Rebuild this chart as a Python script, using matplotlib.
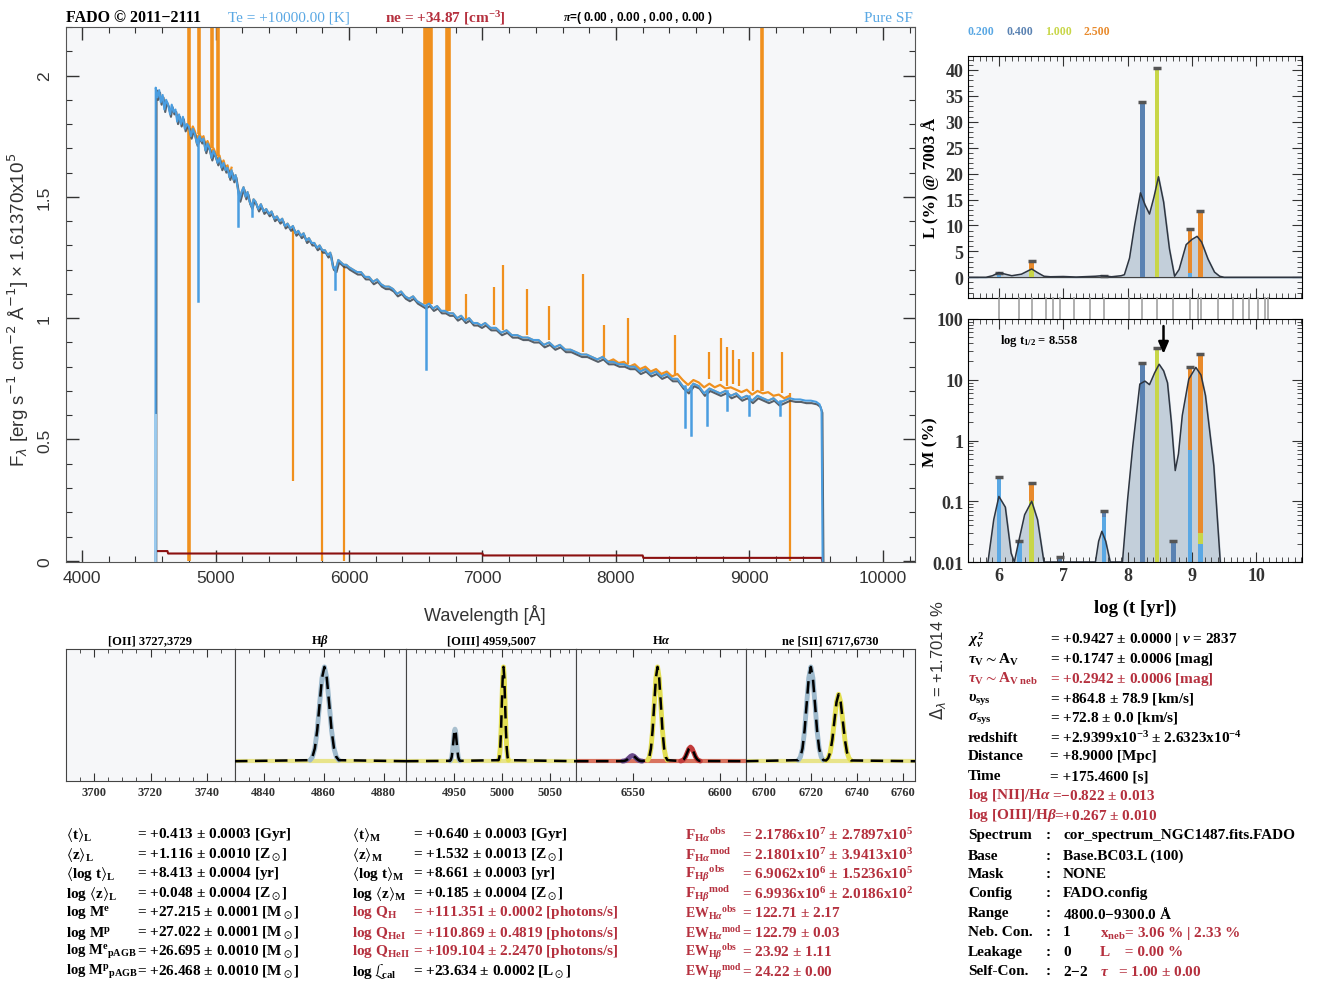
import numpy as np
import matplotlib
matplotlib.use('Agg')
import matplotlib.pyplot as plt
import matplotlib.patheffects as pe
from matplotlib.ticker import MultipleLocator, FixedLocator, NullFormatter, LogLocator, FixedFormatter

plt.rcParams['mathtext.fontset'] = 'custom'
plt.rcParams['mathtext.rm'] = 'Liberation Serif:bold'
plt.rcParams['mathtext.it'] = 'Liberation Serif:italic:bold'
plt.rcParams['mathtext.bf'] = 'Liberation Serif:bold'
plt.rcParams['mathtext.sf'] = 'Liberation Sans'
plt.rcParams['mathtext.fallback'] = 'stix'

# ---------------- DATA ----------------
# best-fit model spectrum (blue): wavelength [A], flux
model_wl = [4550, 4552, 4565, 4578, 4590, 4604, 4617, 4630, 4645, 4660, 4672, 4686, 4700, 4713,
            4727, 4740, 4756, 4770, 4785, 4800, 4815, 4830, 4845, 4860, 4880, 4895, 4910, 4925,
            4940, 4955, 4970, 4985, 5000, 5015, 5030, 5045, 5060, 5075, 5090, 5105, 5120, 5135,
            5150, 5165, 5180, 5195, 5210, 5225, 5240, 5255, 5270, 5285, 5300, 5320, 5340, 5360,
            5380, 5400, 5420, 5440, 5460, 5480, 5500, 5520, 5540, 5560, 5580, 5600, 5620, 5640,
            5660, 5680, 5700, 5720, 5740, 5760, 5780, 5800, 5820, 5840, 5860, 5880, 5900, 5920,
            5940, 5960, 5980, 6000, 6030, 6060, 6090, 6120, 6150, 6180, 6210, 6240, 6270, 6300,
            6330, 6360, 6390, 6420, 6450, 6480, 6510, 6540, 6570, 6600, 6630, 6660, 6690, 6720,
            6750, 6780, 6810, 6840, 6870, 6900, 6930, 6960, 6990, 7020, 7060, 7100, 7140, 7180,
            7220, 7260, 7300, 7340, 7380, 7420, 7460, 7500, 7540, 7580, 7620, 7660, 7700, 7740,
            7780, 7820, 7860, 7900, 7940, 7980, 8020, 8060, 8100, 8140, 8180, 8220, 8260, 8300,
            8340, 8380, 8420, 8460, 8500, 8540, 8580, 8620, 8660, 8700, 8740, 8780, 8820, 8860,
            8900, 8940, 8980, 9020, 9060, 9100, 9140, 9180, 9220, 9260, 9300, 9340, 9380, 9420,
            9460, 9500, 9525, 9540, 9548]
model_flux = [0.0, 1.95, 1.91, 1.94, 1.89, 1.92, 1.86, 1.90, 1.88, 1.84, 1.88, 1.85, 1.86, 1.81,
              1.84, 1.80, 1.83, 1.78, 1.80, 1.79, 1.75, 1.78, 1.76, 1.72, 1.75, 1.73, 1.74, 1.69,
              1.72, 1.70, 1.66, 1.69, 1.67, 1.64, 1.66, 1.62, 1.64, 1.61, 1.62, 1.58, 1.61, 1.57,
              1.59, 1.54, 1.49, 1.52, 1.54, 1.50, 1.52, 1.48, 1.46, 1.49, 1.48, 1.45, 1.47, 1.44,
              1.45, 1.43, 1.44, 1.41, 1.42, 1.40, 1.41, 1.38, 1.39, 1.37, 1.38, 1.35, 1.36, 1.34,
              1.35, 1.32, 1.33, 1.31, 1.31, 1.29, 1.30, 1.28, 1.28, 1.26, 1.27, 1.21, 1.20, 1.24,
              1.23, 1.22, 1.22, 1.21, 1.20, 1.19, 1.19, 1.17, 1.17, 1.15, 1.16, 1.14, 1.13, 1.13,
              1.12, 1.10, 1.11, 1.09, 1.08, 1.09, 1.07, 1.06, 1.05, 1.06, 1.04, 1.05, 1.03, 1.03,
              1.02, 1.02, 1.00, 1.01, 0.99, 1.00, 0.98, 0.98, 0.97, 0.98, 0.96, 0.96, 0.94, 0.95,
              0.93, 0.93, 0.92, 0.92, 0.91, 0.91, 0.89, 0.90, 0.88, 0.89, 0.87, 0.87, 0.86, 0.85,
              0.85, 0.84, 0.83, 0.84, 0.82, 0.82, 0.81, 0.81, 0.80, 0.80, 0.78, 0.79, 0.77, 0.78,
              0.76, 0.77, 0.75, 0.75, 0.72, 0.70, 0.73, 0.72, 0.69, 0.71, 0.70, 0.69, 0.70, 0.68,
              0.69, 0.67, 0.68, 0.66, 0.68, 0.67, 0.66, 0.67, 0.65, 0.66, 0.67, 0.665, 0.665, 0.66,
              0.66, 0.655, 0.645, 0.62, 0.0]
# observed spectrum (orange) where it runs above the model
obs_wl = [4800, 4815, 4830, 4845, 4860, 4880, 4895, 4910, 4925, 4940, 4955, 4970, 4985, 5000,
          5015, 5030, 5045, 5060, 5075, 5090, 5105, 5120,
          7900, 7940, 7980, 8020, 8060, 8100, 8140, 8180, 8220, 8260, 8300, 8340, 8380, 8420,
          8460, 8500, 8540, 8580, 8620, 8660, 8700, 8740, 8780, 8820, 8860, 8900, 8940, 8980,
          9020, 9060, 9100, 9140, 9180, 9220, 9260, 9300]
obs_flux = [1.80, 1.76, 1.79, 1.77, 1.74, 1.76, 1.74, 1.75, 1.71, 1.73, 1.71, 1.68, 1.70, 1.68,
            1.65, 1.67, 1.63, 1.65, 1.62, 1.63, 1.59, 1.62,
            0.84, 0.82, 0.83, 0.815, 0.82, 0.80, 0.81, 0.79, 0.80, 0.78, 0.79, 0.77, 0.78, 0.76,
            0.77, 0.745, 0.725, 0.745, 0.735, 0.715, 0.73, 0.715, 0.725, 0.71, 0.715, 0.705, 0.695, 0.705,
            0.685, 0.70, 0.69, 0.695, 0.68, 0.685, 0.67, 0.68]
# absorption features in the model (wavelength, continuum, depth)
abs_wl = [4868, 5172, 5270, 5893, 6575, 8520, 8565, 8685, 8830, 9000, 9230]
abs_top = [1.74, 1.52, 1.47, 1.21, 1.05, 0.72, 0.72, 0.70, 0.70, 0.68, 0.66]
abs_bot = [1.07, 1.38, 1.42, 1.12, 0.79, 0.55, 0.52, 0.56, 0.62, 0.60, 0.60]
# observed spectrum (orange): emission lines and spikes (wavelength, from, to)
em_wl = [4800, 4875, 4973, 5021, 5577, 5800, 5960, 6567, 6582, 6600, 6618, 6736, 6750,
         6880, 7085, 7157, 7330, 7500, 7750, 7910, 8090, 8440, 8700, 8790, 8830, 8880, 8920,
         9030, 9095, 9240, 9300]
em_from = [0.0, 1.76, 1.70, 1.67, 1.37, 1.28, 1.22, 1.06, 1.06, 1.06, 1.06, 1.03, 1.03,
           0.99, 0.97, 0.95, 0.93, 0.91, 0.86, 0.84, 0.81, 0.77, 0.75, 0.74, 0.72, 0.73, 0.72,
           0.70, 0.70, 0.69, 0.69]
em_to = [2.3, 2.3, 2.3, 2.3, 0.33, 0.0, 0.0, 2.3, 2.3, 2.3, 2.3, 2.3, 2.3,
         1.10, 1.13, 1.22, 1.12, 1.05, 1.18, 0.97, 1.0, 0.93, 0.86, 0.92, 0.88, 0.87, 0.83,
         0.86, 2.3, 0.86, 0.0]
# nebular continuum (dark red)
neb_wl = [4550, 4552, 4640, 4645, 7000, 7005, 8200, 8205, 9540, 9545]
neb_flux = [0.0, 0.040, 0.040, 0.030, 0.030, 0.022, 0.022, 0.012, 0.012, 0.0]

# SFH
base_ages = [6.00, 6.32, 6.51, 6.73, 6.84, 6.95, 7.16, 7.42, 7.63, 8.02, 8.23, 8.46, 8.71,
             8.97, 9.10, 9.14, 9.41, 9.64, 9.80, 9.89, 10.03, 10.13, 10.18]
Z_labels = ['0.200', '0.400', '1.000', '2.500']
Z_colors = ['#5aa8e4', '#5a82b2', '#c8d648', '#e88a2c']
barL_age = [6.00, 6.51, 7.63, 8.23, 8.46, 8.97, 9.13]
barL = {'0.200': [0.9, 0.0, 0.2, 0.0, 0.0, 0.8, 0.0],
        '0.400': [0.0, 0.0, 0.0, 33.8, 0.0, 0.0, 0.0],
        '1.000': [0.0, 1.6, 0.0, 0.0, 40.4, 0.0, 0.0],
        '2.500': [0.0, 1.5, 0.0, 0.0, 0.0, 8.6, 12.7]}
curveL_x = [5.52, 5.80, 5.90, 6.00, 6.10, 6.20, 6.35, 6.51, 6.60, 6.70, 6.80, 7.00, 7.20, 7.50,
            7.60, 7.75, 7.90, 7.95, 8.03, 8.11, 8.20, 8.27, 8.34, 8.41, 8.48, 8.56, 8.65, 8.73,
            8.80, 8.91, 9.00, 9.08, 9.15, 9.25, 9.35, 9.43, 9.50, 10.71]
curveL_y = [0.0, 0.0, 0.3, 0.9, 0.6, 0.3, 0.6, 1.6, 0.9, 0.2, 0.1, 0.15, 0.05, 0.2,
            0.3, 0.1, 0.3, 0.5, 3.7, 10.1, 16.3, 14.0, 12.2, 15.5, 19.4, 14.5, 5.5, 0.2,
            1.5, 6.3, 7.3, 7.9, 6.8, 3.5, 1.0, 0.2, 0.0, 0.0]
barM_age = [6.00, 6.32, 6.51, 6.95, 7.63, 8.23, 8.46, 8.71, 8.97, 9.13]
barM = {'0.200': [0.25, 0.022, 0.0, 0.0, 0.055, 0.0, 0.0, 0.0, 0.7, 0.02],
        '0.400': [0.0, 0.0, 0.0, 0.012, 0.015, 19.0, 0.0, 0.022, 0.0, 0.0],
        '1.000': [0.0, 0.0, 0.1, 0.0, 0.0, 0.0, 33.0, 0.0, 0.0, 0.01],
        '2.500': [0.0, 0.0, 0.1, 0.0, 0.0, 0.0, 0.0, 0.0, 15.3, 27.0]}
curveM_x = [5.83, 5.92, 6.00, 6.10, 6.19, 6.24, 6.30, 6.40, 6.51, 6.60, 6.70,
            7.50, 7.55, 7.60, 7.66, 7.73,
            7.92, 8.00, 8.08, 8.19, 8.27, 8.34, 8.42, 8.49, 8.56, 8.62, 8.68, 8.74, 8.79,
            8.85, 8.95, 9.06, 9.14, 9.21, 9.34, 9.44]
curveM_y = [0.01, 0.05, 0.12, 0.08, 0.014, 0.01, 0.02, 0.06, 0.10, 0.05, 0.01,
            0.01, 0.022, 0.032, 0.022, 0.01,
            0.01, 0.107, 0.8, 8.5, 9.5, 8.3, 13.0, 18.0, 14.0, 8.9, 2.0, 0.32, 0.6,
            2.6, 10.2, 16.0, 12.0, 5.5, 0.38, 0.01]
t_half = 8.558

# emission-line panels
panel_titles = ['[OII] 3727,3729', r'H$\beta$', '[OIII] 4959,5007', r'H$\alpha$', 'ne [SII] 6717,6730']
panel_xlim = [(3690, 3750), (4830.5, 4887.5), (4900, 5077), (6517, 6615), (6692, 6765)]
panel_ticks = [[3700, 3720, 3740], [4840, 4860, 4880], [4950, 5000, 5050], [6550, 6600],
               [6700, 6720, 6740, 6760]]
panel_minor = [5, 5, 10, 10, 5]
# lines: (panel, centre, peak, sigma, colour)
line_panel = [1, 2, 2, 3, 3, 3, 4, 4]
line_center = [4860.3, 4951.0, 5001.5, 6549.5, 6564.0, 6583.0, 6720.0, 6732.0]
line_peak = [1.0, 0.34, 1.0, 0.06, 1.0, 0.15, 1.0, 0.71]
line_sigma = [1.6, 1.7, 1.7, 1.9, 1.9, 1.9, 1.8, 1.8]
line_color = ['#9db9cc', '#a9c0cf', '#e2de52', '#6a4a8a', '#e2de52', '#c23b3b', '#9db9cc', '#e2de52']
prof_dx = [-3.0, -2.5, -2.0, -1.5, -1.0, -0.5, 0.0, 0.5, 1.0, 1.5, 2.0, 2.5, 3.0]
prof_shape = [0.011, 0.044, 0.135, 0.325, 0.607, 0.882, 1.0, 0.882, 0.607, 0.325, 0.135, 0.044, 0.011]
base_color = [None, '#e8e48a', '#e8e48a', '#d9735f', '#e8e48a']

# text tables
RED = '#b5303e'
LBLUE = '#5aa8e4'
tabA_lab = [r'$\langle\mathrm{t}\rangle_\mathrm{L}$', r'$\langle\mathrm{z}\rangle_\mathrm{L}$',
            r'$\langle\mathrm{log\ t}\rangle_\mathrm{L}$', r'log $\langle\mathrm{z}\rangle_\mathrm{L}$',
            r'log M$^\mathrm{e}$', r'log M$^\mathrm{p}$', r'log M$^\mathrm{e}{}_\mathrm{pAGB}$',
            r'log M$^\mathrm{p}{}_\mathrm{pAGB}$']
tabA_val = [r'= +0.413 $\pm$ 0.0003 [Gyr]', r'= +1.116 $\pm$ 0.0010 [Z$_\odot$]',
            r'= +8.413 $\pm$ 0.0004 [yr]', r'= +0.048 $\pm$ 0.0004 [Z$_\odot$]',
            r'= +27.215 $\pm$ 0.0001 [M$_\odot$]', r'= +27.022 $\pm$ 0.0001 [M$_\odot$]',
            r'= +26.695 $\pm$ 0.0010 [M$_\odot$]', r'= +26.468 $\pm$ 0.0010 [M$_\odot$]']
tabB_lab = [r'$\langle\mathrm{t}\rangle_\mathrm{M}$', r'$\langle\mathrm{z}\rangle_\mathrm{M}$',
            r'$\langle\mathrm{log\ t}\rangle_\mathrm{M}$', r'log $\langle\mathrm{z}\rangle_\mathrm{M}$',
            r'log Q$_\mathrm{H}$', r'log Q$_\mathrm{HeI}$', r'log Q$_\mathrm{HeII}$',
            r'log $\mathcal{L}_\mathrm{cal}$']
tabB_val = [r'= +0.640 $\pm$ 0.0003 [Gyr]', r'= +1.532 $\pm$ 0.0013 [Z$_\odot$]',
            r'= +8.661 $\pm$ 0.0003 [yr]', r'= +0.185 $\pm$ 0.0004 [Z$_\odot$]',
            r'= +111.351 $\pm$ 0.0002 [photons/s]', r'= +110.869 $\pm$ 0.4819 [photons/s]',
            r'= +109.104 $\pm$ 2.2470 [photons/s]', r'= +23.634 $\pm$ 0.0002 [L$_\odot$]']
tabB_col = ['k', 'k', 'k', 'k', RED, RED, RED, 'k']
tabC_lab = [r'F$_{\mathrm{H}\alpha}{}^\mathrm{obs}$', r'F$_{\mathrm{H}\alpha}{}^\mathrm{mod}$',
            r'F$_{\mathrm{H}\beta}{}^\mathrm{obs}$', r'F$_{\mathrm{H}\beta}{}^\mathrm{mod}$',
            r'EW$_{\mathrm{H}\alpha}{}^\mathrm{obs}$', r'EW$_{\mathrm{H}\alpha}{}^\mathrm{mod}$',
            r'EW$_{\mathrm{H}\beta}{}^\mathrm{obs}$', r'EW$_{\mathrm{H}\beta}{}^\mathrm{mod}$']
tabC_val = [r'= 2.1786x10$^7$ $\pm$ 2.7897x10$^5$', r'= 2.1801x10$^7$ $\pm$ 3.9413x10$^3$',
            r'= 6.9062x10$^6$ $\pm$ 1.5236x10$^5$', r'= 6.9936x10$^6$ $\pm$ 2.0186x10$^2$',
            r'= 122.71 $\pm$ 2.17', r'= 122.79 $\pm$ 0.03', r'= 23.92 $\pm$ 1.11',
            r'= 24.22 $\pm$ 0.00']
tabD_lab = [r'$\chi^2_\nu$', r'$\tau_\mathrm{V} \sim \mathrm{A}_\mathrm{V}$',
            r'$\tau_\mathrm{V} \sim \mathrm{A}_\mathrm{V\ neb}$', r'$\upsilon_\mathrm{sys}$',
            r'$\sigma_\mathrm{sys}$', 'redshift', 'Distance', 'Time', r'log [NII]/H$\alpha$',
            r'log [OIII]/H$\beta$']
tabD_val = [r'= +0.9427 $\pm$ 0.0000 | $\nu$ = 2837', r'= +0.1747 $\pm$ 0.0006 [mag]',
            r'= +0.2942 $\pm$ 0.0006 [mag]', r'= +864.8 $\pm$ 78.9 [km/s]',
            r'= +72.8 $\pm$ 0.0 [km/s]', r'= +2.9399x10$^{-3}$ $\pm$ 2.6323x10$^{-4}$',
            '= +8.9000 [Mpc]', '= +175.4600 [s]', r'$-$0.822 $\pm$ 0.013', r'+0.267 $\pm$ 0.010']
tabD_col = ['k', 'k', RED, 'k', 'k', 'k', 'k', 'k', RED, RED]
tabE_lab = ['Spectrum', 'Base', 'Mask', 'Config', 'Range', 'Neb. Con.', 'Leakage', 'Self-Con.']
tabE_val = ['cor_spectrum_NGC1487.fits.FADO', 'Base.BC03.L (100)', 'NONE', 'FADO.config',
            '4800.0$-$9300.0 Å', '1', '0', '2$-$2']
tabE_extra = ['', '', '', '', '', r'x$_\mathrm{neb}$= 3.06 % | 2.33 %', r'L    = 0.00 %',
              r'$\tau$   = 1.00 $\pm$ 0.00']

# ---------------- FIGURE ----------------
W, H = 1323, 987
fig = plt.figure(figsize=(W / 100, H / 100), dpi=100)
fig.patch.set_facecolor('white')
BG = '#f6f7f9'
SERIF = 'Liberation Serif'
SANS = 'Liberation Sans'


def ax_px(l, t, r, b):
    return fig.add_axes([l / W, 1 - b / H, (r - l) / W, (b - t) / H])


def fx(x):
    return x / W


def fy(y):
    return 1 - y / H


# ---- main spectrum ----
ax = ax_px(66, 28, 915, 563)
ax.set_facecolor(BG)
ax.set_xlim(3880, 10240)
ax.set_ylim(-0.005, 2.2)
mwl = np.array(model_wl)
mfl = np.array(model_flux)
sel = (mwl >= 4800) & (mwl <= 9300)
ax.plot(mwl[sel], mfl[sel], color='#f0901e', lw=1.4, zorder=2)
owl = np.array(obs_wl)
ofl = np.array(obs_flux)
for part in (owl < 6000, owl > 6000):
    ax.plot(owl[part], ofl[part], color='#f0901e', lw=1.6, zorder=2)
for w, a, b in zip(em_wl, em_from, em_to):
    big = b > 2.0
    ax.plot([w, w], [a, b], color='#f0901e', lw=2.6 if big else 1.6, zorder=2,
            solid_capstyle='butt')
ax.plot(neb_wl, neb_flux, color='#8b1010', lw=1.5, zorder=3)
ax.plot(model_wl, model_flux, color='#4a9de0', lw=1.5, zorder=4,
        path_effects=[pe.SimpleLineShadow(offset=(0.6, -1.8), shadow_color='#3c4650', alpha=0.85),
                      pe.Normal()])
for w, a, b in zip(abs_wl, abs_top, abs_bot):
    ax.plot([w, w], [a, b], color='#4a9de0', lw=1.8, zorder=4)
ax.plot([model_wl[0], model_wl[1]], [0.0, 0.6], color='#9ccbee', lw=1.8, zorder=5)
ax.xaxis.set_major_locator(MultipleLocator(1000))
ax.xaxis.set_minor_locator(MultipleLocator(200))
ax.yaxis.set_major_locator(FixedLocator([0, 0.5, 1, 1.5, 2]))
ax.yaxis.set_major_formatter(FixedFormatter(['0', '0.5', '1', '1.5', '2']))
ax.yaxis.set_minor_locator(MultipleLocator(0.1))
ax.tick_params(which='both', direction='in', top=True, right=True, colors='#333333',
               labelsize=12.5, labelcolor='#333333')
ax.tick_params(which='major', length=9, width=1)
ax.tick_params(which='minor', length=4.5, width=0.8)
ax.tick_params(axis='y', labelrotation=90, pad=10)
ax.tick_params(axis='x', pad=6)
for lab in ax.get_yticklabels():
    lab.set_va('center')
    lab.set_fontfamily(SANS)
for lab in ax.get_xticklabels():
    lab.set_fontfamily(SANS)
for s in ax.spines.values():
    s.set_color('#555555')
fig.text(fx(18), fy(310), r'F$_\lambda$ [erg s$^{-1}$ cm$^{-2}$ Å$^{-1}$] × 1.61370x10$^5$',
         rotation=90, ha='center', va='center', fontsize=13.5, family=SANS, color='#333333',
         math_fontfamily='dejavusans')
fig.text(fx(485), fy(615), 'Wavelength [Å]', ha='center', va='center', fontsize=13,
         family=SANS, color='#333333')
# header
fig.text(fx(66), fy(18), 'FADO © 2011−2111', fontsize=11.5, family=SERIF, color='k',
         va='center', weight='bold')
fig.text(fx(228), fy(18), 'Te = +10000.00 [K]', fontsize=11, family=SERIF, color=LBLUE,
         va='center')
fig.text(fx(385), fy(18), r'ne = +34.87 [cm$^{-3}$]', fontsize=11, family=SERIF, color=RED,
         va='center', weight='bold')
fig.text(fx(563), fy(18), r'$\pi$=( 0.00 , 0.00 , 0.00 , 0.00 )', fontsize=8.5, family=SANS,
         color='k', va='center', weight='bold')
fig.text(fx(913), fy(18), 'Pure SF', fontsize=11, family=SERIF, color=LBLUE, va='center',
         ha='right')

# ---- SFH luminosity panel ----
tick_kw = dict(which='both', direction='in', top=True, right=True, colors='#333333')
axL = ax_px(968, 57, 1302, 299)
axL.set_facecolor(BG)
axL.set_xlim(5.52, 10.71)
axL.set_ylim(-4, 42.7)
axL.fill_between(curveL_x, curveL_y, 0, color='#c3cfda', zorder=1)
axL.axhline(0, color='#444444', lw=0.8, zorder=1)
bottom = np.zeros(len(barL_age))
for zl, zc in zip(Z_labels, Z_colors):
    vals = np.array(barL[zl])
    m = vals > 0
    axL.bar(np.array(barL_age)[m], vals[m], width=0.07, bottom=bottom[m], color=zc, zorder=2,
            linewidth=0)
    bottom = bottom + vals
axL.plot(barL_age, bottom, ls='none', marker='_', ms=6, mew=2.5, color='#555555', zorder=3)
axL.plot(curveL_x, curveL_y, color='#2e3540', lw=1.1, zorder=4)
axL.xaxis.set_major_locator(MultipleLocator(1))
axL.xaxis.set_minor_locator(MultipleLocator(0.1))
axL.yaxis.set_major_locator(MultipleLocator(5))
axL.yaxis.set_minor_locator(MultipleLocator(1))
axL.tick_params(**tick_kw)
axL.tick_params(which='major', length=7)
axL.tick_params(which='minor', length=3.5)
axL.tick_params(labelbottom=False, labelsize=13)
for lab in axL.get_yticklabels():
    lab.set_fontfamily(SERIF)
    lab.set_fontweight('bold')
fig.text(fx(930), fy(178), 'L (%) @ 7003 Å', rotation=90, ha='center', va='center',
         fontsize=12.5, family=SERIF, weight='bold')
for i, (zl, zc) in enumerate(zip(Z_labels, Z_colors)):
    fig.text(fx(968 + i * 38.5), fy(32), zl, color=zc, fontsize=8.5, family=SERIF,
             weight='bold', va='center')

# base-age strip
axT = ax_px(968, 298, 1302, 321)
axT.set_xlim(5.52, 10.71)
axT.set_ylim(0, 1)
axT.axis('off')
axT.vlines(base_ages, 0, 1, color='#9a9a9a', lw=1.1)

# ---- SFH mass panel ----
axM = ax_px(968, 320, 1302, 563)
axM.set_facecolor(BG)
axM.set_xlim(5.52, 10.71)
axM.set_yscale('log')
axM.set_ylim(0.01, 100)
axM.fill_between(curveM_x, curveM_y, 0.01, color='#c3cfda', zorder=1)
bottom = np.full(len(barM_age), 0.0)
for zl, zc in zip(Z_labels, Z_colors):
    vals = np.array(barM[zl])
    m = vals > 0
    bb = np.where(bottom[m] > 0, bottom[m], 0.0095)
    axM.bar(np.array(barM_age)[m], (bottom + vals)[m] - bb, width=0.07, bottom=bb, color=zc,
            zorder=2, linewidth=0)
    bottom = bottom + vals
axM.plot(barM_age, bottom, ls='none', marker='_', ms=6, mew=2.5, color='#555555', zorder=3)
axM.plot(curveM_x, curveM_y, color='#2e3540', lw=1.1, zorder=4)
axM.annotate('', xy=(t_half, 24), xytext=(t_half, 85),
             arrowprops=dict(arrowstyle='-|>,head_length=0.7,head_width=0.3', color='k', lw=1.8),
             zorder=5)
axM.text(0.096, 0.915, r'log t$_\mathrm{1/2}$ = %.3f' % t_half, transform=axM.transAxes,
         fontsize=9, family=SERIF, weight='bold', va='center')
axM.xaxis.set_major_locator(MultipleLocator(1))
axM.xaxis.set_minor_locator(MultipleLocator(0.1))
axM.yaxis.set_major_locator(FixedLocator([0.01, 0.1, 1, 10, 100]))
axM.yaxis.set_major_formatter(FixedFormatter(['0.01', '0.1', '1', '10', '100']))
axM.yaxis.set_minor_locator(LogLocator(base=10, subs=np.arange(2, 10)))
axM.yaxis.set_minor_formatter(NullFormatter())
axM.tick_params(**tick_kw)
axM.tick_params(which='major', length=7)
axM.tick_params(which='minor', length=3.5)
axM.tick_params(labelsize=13)
for lab in axM.get_yticklabels() + axM.get_xticklabels():
    lab.set_fontfamily(SERIF)
    lab.set_fontweight('bold')
fig.text(fx(930), fy(442), 'M (%)', rotation=90, ha='center', va='center', fontsize=12.5,
         family=SERIF, weight='bold')
fig.text(fx(1135), fy(608), 'log (t [yr])', ha='center', va='center', fontsize=13.5,
         family=SERIF, weight='bold')
fig.text(fx(938), fy(660), r'$\Delta_\lambda$ = +1.7014 %', rotation=90, ha='center',
         va='center', fontsize=12, family=SANS, color='#333333', math_fontfamily='dejavusans')

# ---- emission-line panels ----
edges = [66, 235, 406, 576, 746, 915]
for p in range(5):
    a = ax_px(edges[p], 650, edges[p + 1], 782)
    a.set_facecolor(BG)
    a.set_xlim(*panel_xlim[p])
    a.set_ylim(-0.21, 1.19)
    a.xaxis.set_major_locator(FixedLocator(panel_ticks[p]))
    a.xaxis.set_minor_locator(MultipleLocator(panel_minor[p]))
    a.set_yticks([])
    a.tick_params(which='both', direction='in', top=True, colors='#333333', labelsize=9)
    a.tick_params(which='major', length=6)
    a.tick_params(which='minor', length=3)
    for lab in a.get_xticklabels():
        lab.set_fontfamily(SERIF)
        lab.set_fontweight('bold')
    for s in a.spines.values():
        s.set_color('#444444')
    a.set_title(panel_titles[p], fontsize=9, family=SERIF, weight='bold', pad=4)
    if base_color[p] is not None:
        a.plot(panel_xlim[p], [0, 0], color=base_color[p], lw=3, zorder=1)
    idx = [i for i, q in enumerate(line_panel) if q == p]
    mx, my = [panel_xlim[p][0]], [0.0]
    for i in idx:
        xs = [line_center[i] + d * line_sigma[i] for d in prof_dx]
        ys = [line_peak[i] * s for s in prof_shape]
        a.plot(xs, ys, color=line_color[i], lw=3.5, zorder=2, solid_capstyle='round')
        mx += xs
        my += ys
    if idx:
        mx.append(panel_xlim[p][1])
        my.append(0.0)
        a.plot(mx, my, color='k', lw=1.8, ls=(0, (5, 3)), zorder=3)

# ---- text tables ----
rows = [835, 855, 874, 894, 913, 933, 952, 972]
tfs = 11
for i, y in enumerate(rows):
    fig.text(fx(66), fy(y), tabA_lab[i], fontsize=tfs if i < 6 else 10.5, family=SERIF,
             weight='bold', va='center')
    fig.text(fx(137), fy(y), tabA_val[i], fontsize=tfs, family=SERIF, weight='bold', va='center')
    fig.text(fx(352), fy(y), tabB_lab[i], fontsize=tfs, family=SERIF, weight='bold', va='center',
             color=tabB_col[i])
    fig.text(fx(413), fy(y), tabB_val[i], fontsize=tfs, family=SERIF, weight='bold', va='center',
             color=tabB_col[i])
    fig.text(fx(685), fy(y), tabC_lab[i], fontsize=tfs if i < 4 else 10, family=SERIF,
             weight='bold', va='center', color=RED)
    fig.text(fx(742), fy(y), tabC_val[i], fontsize=tfs, family=SERIF, weight='bold', va='center',
             color=RED)
rowsD = [640, 660, 679, 699, 718, 738, 757, 777, 796, 816]
for i, y in enumerate(rowsD):
    fig.text(fx(968), fy(y), tabD_lab[i], fontsize=tfs, family=SERIF, weight='bold', va='center',
             color=tabD_col[i])
    if i < 8:
        fig.text(fx(1050), fy(y), tabD_val[i], fontsize=tfs, family=SERIF, weight='bold',
                 va='center', color=tabD_col[i])
    else:
        fig.text(fx(1052 if i == 8 else 1054), fy(y), '=' + tabD_val[i], fontsize=tfs,
                 family=SERIF, weight='bold', va='center', color=tabD_col[i])
rowsE = [836, 856, 875, 894, 914, 933, 953, 972]
for i, y in enumerate(rowsE):
    fig.text(fx(968), fy(y), tabE_lab[i], fontsize=tfs, family=SERIF, weight='bold', va='center')
    fig.text(fx(1046), fy(y), ':', fontsize=tfs, family=SERIF, weight='bold', va='center')
    fig.text(fx(1063), fy(y), tabE_val[i], fontsize=tfs, family=SERIF, weight='bold', va='center')
    if tabE_extra[i]:
        fig.text(fx(1100), fy(y), tabE_extra[i], fontsize=tfs, family=SERIF, weight='bold',
                 va='center', color=RED)

fig.savefig('out.png', dpi=100, facecolor='white')
